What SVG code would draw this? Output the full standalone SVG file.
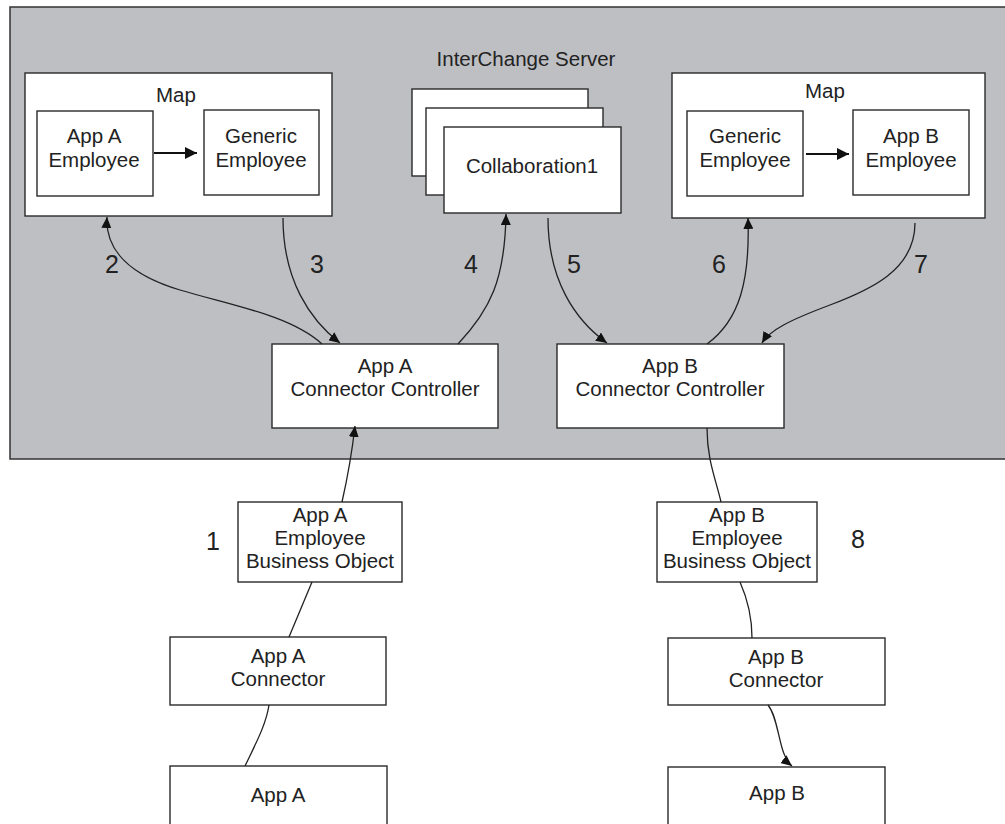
<svg xmlns="http://www.w3.org/2000/svg" width="1005" height="824" viewBox="0 0 1005 824">
<style>
.box{fill:#fff;stroke:#2a2a2a;stroke-width:1.4}
.t{font-family:"Liberation Sans",Arial,sans-serif;font-size:20.5px;fill:#222;text-anchor:middle}
.n{font-family:"Liberation Sans",Arial,sans-serif;font-size:25px;fill:#222;text-anchor:middle}
.c{fill:none;stroke:#222;stroke-width:1.3}
.a{marker-end:url(#ah)}
.m{fill:none;stroke:#111;stroke-width:2.2;marker-end:url(#ah2)}
</style>
<defs>
<marker id="ah" markerUnits="userSpaceOnUse" markerWidth="12" markerHeight="10" refX="11" refY="5" orient="auto">
<path d="M0,0 L11,5 L0,10 z" fill="#111"/>
</marker>
<marker id="ah2" markerUnits="userSpaceOnUse" markerWidth="13" markerHeight="12" refX="12" refY="6" orient="auto">
<path d="M0,0 L12,6 L0,12 z" fill="#111"/>
</marker>
</defs>
<rect width="1005" height="824" fill="#fff"/>
<g id="server">
<rect x="10" y="7" width="996" height="452" fill="#bebfc3" stroke="#333" stroke-width="1.5"/>
<text class="t" x="526" y="66">InterChange Server</text>
</g>
<g id="mapA">
<rect class="box" x="25" y="73" width="307" height="143"/>
<text class="t" x="176" y="102">Map</text>
</g>
<g id="appAEmp">
<rect class="box" x="37" y="111" width="116" height="85"/>
<text class="t" x="94" y="143">App A</text>
<text class="t" x="94" y="167">Employee</text>
</g>
<g id="genEmpA">
<rect class="box" x="204" y="110" width="115" height="85"/>
<text class="t" x="261" y="143">Generic</text>
<text class="t" x="261" y="167">Employee</text>
</g>
<g id="collab">
<rect class="box" x="412" y="89" width="176" height="87"/>
<rect class="box" x="426" y="108" width="177" height="87"/>
<rect class="box" x="444" y="127" width="177" height="86"/>
<text class="t" x="532" y="173">Collaboration1</text>
</g>
<g id="mapB">
<rect class="box" x="672" y="73" width="313" height="145"/>
<text class="t" x="825" y="98">Map</text>
</g>
<g id="genEmpB">
<rect class="box" x="687" y="111" width="116" height="85"/>
<text class="t" x="745" y="143">Generic</text>
<text class="t" x="745" y="167">Employee</text>
</g>
<g id="appBEmp">
<rect class="box" x="853" y="110" width="116" height="85"/>
<text class="t" x="911" y="143">App B</text>
<text class="t" x="911" y="167">Employee</text>
</g>
<g id="ccA">
<rect class="box" x="272" y="344" width="226" height="84"/>
<text class="t" x="385" y="373">App A</text>
<text class="t" x="385" y="396">Connector Controller</text>
</g>
<g id="ccB">
<rect class="box" x="557" y="344" width="227" height="84"/>
<text class="t" x="670" y="373">App B</text>
<text class="t" x="670" y="396">Connector Controller</text>
</g>
<g id="eboA">
<rect class="box" x="238" y="502" width="164" height="80"/>
<text class="t" x="320" y="522">App A</text>
<text class="t" x="320" y="545">Employee</text>
<text class="t" x="320" y="568">Business Object</text>
</g>
<g id="connA">
<rect class="box" x="170" y="637" width="216" height="68"/>
<text class="t" x="278" y="663">App A</text>
<text class="t" x="278" y="686">Connector</text>
</g>
<g id="appA">
<rect class="box" x="170" y="766" width="217" height="70"/>
<text class="t" x="278" y="802">App A</text>
</g>
<g id="eboB">
<rect class="box" x="657" y="502" width="160" height="80"/>
<text class="t" x="737" y="522">App B</text>
<text class="t" x="737" y="545">Employee</text>
<text class="t" x="737" y="568">Business Object</text>
</g>
<g id="connB">
<rect class="box" x="668" y="638" width="217" height="67"/>
<text class="t" x="776" y="664">App B</text>
<text class="t" x="776" y="687">Connector</text>
</g>
<g id="appB">
<rect class="box" x="668" y="767" width="217" height="70"/>
<text class="t" x="777" y="800">App B</text>
</g>
<g id="connectors">
<path class="m" d="M154,153 L197,153"/>
<path class="m" d="M806,154 L849,154"/>
<path class="c a" d="M322,344 C290,315 230,305 180,290 C130,275 105,250 107,217"/>
<path class="c a" d="M283,218 C283,280 310,320 340,343"/>
<path class="c a" d="M458,344 C490,310 505,280 506,214"/>
<path class="c a" d="M548,218 C548,280 575,320 607,343"/>
<path class="c a" d="M707,344 C740,320 750,280 748,218"/>
<path class="c a" d="M915,223 C915,270 870,290 830,305 C790,320 770,330 762,343"/>
<path class="c a" d="M342,502 C347,480 352,452 355,426"/>
<path class="c" d="M312,582 L289,637"/>
<path class="c" d="M269,705 C266,725 255,745 245,766"/>
<path class="c" d="M707,428 C707,460 716,480 721,502"/>
<path class="c" d="M740,582 C748,600 752,620 752,638"/>
<path class="c a" d="M768,705 C780,720 778,755 792,766"/>
</g>
<g id="labels">
<text class="n" x="112" y="273">2</text>
<text class="n" x="317" y="273">3</text>
<text class="n" x="471" y="273">4</text>
<text class="n" x="574" y="273">5</text>
<text class="n" x="719" y="273">6</text>
<text class="n" x="921" y="273">7</text>
<text class="n" x="213" y="550">1</text>
<text class="n" x="858" y="548">8</text>
</g>
</svg>
